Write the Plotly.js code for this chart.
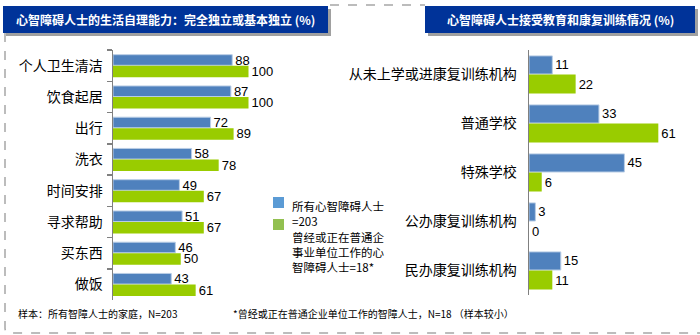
<!DOCTYPE html>
<html>
<head>
<meta charset="utf-8">
<script src="https://cdn.plot.ly/plotly-3.0.1.min.js"></script>
<style>html,body{margin:0;padding:0;background:#fff;}#chart{width:700px;height:335px;}</style>
</head>
<body>
<div id="chart"></div>
<script>
// ---- data ----
const leftCategories = ["个人卫生清洁","饮食起居","出行","洗衣","时间安排","寻求帮助","买东西","做饭"];
const leftAll = [88, 87, 72, 58, 49, 51, 46, 43];
const leftEmployed = [100, 100, 89, 78, 67, 67, 50, 61];

const rightCategories = ["从未上学或进康复训练机构","普通学校","特殊学校","公办康复训练机构","民办康复训练机构"];
const rightAll = [11, 33, 45, 3, 15];
const rightEmployed = [22, 61, 6, 0, 11];

const titleLeft = "心智障碍人士的生活自理能力：完全独立或基本独立 (%)";
const titleRight = "心智障碍人士接受教育和康复训练情况 (%)";
const legendAllLines = ["所有心智障碍人士", "=203"];
const legendEmpLines = ["曾经或正在普通企", "事业单位工作的心", "智障碍人士=18*"];
const noteLeft = "样本：所有智障人士的家庭，N=203";
const noteRight = "*曾经或正在普通企业单位工作的智障人士，N=18 （样本较小）";

// ---- helpers ----
const W = 700, H = 335;
const px = x => x / W;
const py = y => 1 - y / H;
const BLUE = "#4F81BD", GREEN = "#99CC00";
const CJK = "Noto Sans CJK SC, sans-serif";
const NUM = "Liberation Sans, Arial, sans-serif";

function barTrace(x, y, color, xa, ya, w, off, line) {
  return {
    type: "bar", orientation: "h", x: x, y: y,
    xaxis: xa, yaxis: ya, width: w, offset: off,
    marker: {color: color, line: line},
    text: x.map(String), textposition: "outside", cliponaxis: false,
    constraintext: "none",
    textfont: {family: NUM, size: 13, color: "#000"},
    hoverinfo: "skip", showlegend: false
  };
}
const blueLine = {color: "#B9CDE5", width: 1};
const greenLine = {color: GREEN, width: 0};

const traces = [
  barTrace(leftAll, leftCategories, BLUE, "x", "y", 0.34, -0.35, blueLine),
  barTrace(leftEmployed, leftCategories, GREEN, "x", "y", 0.37, 0.0, greenLine),
  barTrace(rightAll, rightCategories, BLUE, "x2", "y2", 0.37, -0.38, blueLine),
  barTrace(rightEmployed, rightCategories, GREEN, "x2", "y2", 0.39, 0.0, greenLine)
];

const shapes = [];
const annotations = [];

// dashed frame
shapes.push({type: "path", xref: "paper", yref: "paper",
  path: `M ${px(5)} ${py(33)} L ${px(5)} ${py(328)} Q ${px(5)} ${py(333)} ${px(10)} ${py(333)} L ${px(700)} ${py(333)}`,
  line: {color: "#A6A6A6", width: 1.5, dash: "dash"}});
shapes.push({type: "line", xref: "paper", yref: "paper",
  x0: px(330), x1: px(425), y0: py(5), y1: py(5),
  line: {color: "#A6A6A6", width: 1.5, dash: "dash"}});

// title boxes with shadow
function titleBox(x0, x1, y0, y1, text) {
  shapes.push({type: "rect", xref: "paper", yref: "paper",
    x0: px(x0 + 3), x1: px(x1 + 3), y0: py(y0 + 3), y1: py(y1 + 3),
    fillcolor: "#A0A0A0", line: {width: 0}, layer: "above"});
  shapes.push({type: "rect", xref: "paper", yref: "paper",
    x0: px(x0), x1: px(x1), y0: py(y0), y1: py(y1),
    fillcolor: "#003399", line: {width: 0}, layer: "above"});
  annotations.push({xref: "paper", yref: "paper", x: px((x0 + x1) / 2), y: py((y0 + y1) / 2),
    text: "<b>" + text + "</b>", showarrow: false, xanchor: "center", yanchor: "middle",
    font: {family: CJK, size: 12, color: "#fff"}});
}
titleBox(3, 328, 6, 33, titleLeft);
titleBox(425, 695, 6, 33, titleRight);

// legend
shapes.push({type: "rect", xref: "paper", yref: "paper",
  x0: px(273), x1: px(284), y0: py(197), y1: py(208), fillcolor: "#5B9BD5", line: {width: 0}});
shapes.push({type: "rect", xref: "paper", yref: "paper",
  x0: px(273), x1: px(284), y0: py(219), y1: py(230), fillcolor: "#92C050", line: {width: 0}});
annotations.push({xref: "paper", yref: "paper",
  x: px(290), y: py(196), text: legendAllLines.join("<br>"), showarrow: false,
  xanchor: "left", yanchor: "top", align: "left",
  font: {family: CJK, size: 11.5, color: "#000"}});
annotations.push({xref: "paper", yref: "paper",
  x: px(290), y: py(227), text: legendEmpLines.join("<br>"), showarrow: false,
  xanchor: "left", yanchor: "top", align: "left",
  font: {family: CJK, size: 11.5, color: "#000"}});

// footnotes
annotations.push({xref: "paper", yref: "paper", x: px(16), y: py(313), text: noteLeft,
  showarrow: false, xanchor: "left", yanchor: "middle", font: {family: CJK, size: 10, color: "#000"}});
annotations.push({xref: "paper", yref: "paper", x: px(231), y: py(313), text: noteRight,
  showarrow: false, xanchor: "left", yanchor: "middle", font: {family: CJK, size: 10, color: "#000"}});

const hiddenX = {showline: false, showticklabels: false, showgrid: false, zeroline: false, fixedrange: true};

const layout = {
  width: W, height: H,
  margin: {l: 0, r: 0, t: 0, b: 0},
  paper_bgcolor: "#fff", plot_bgcolor: "rgba(0,0,0,0)",
  barmode: "group",
  showlegend: false,
  xaxis: Object.assign({}, hiddenX, {domain: [px(113), px(113 + 125 * 1.355)], range: [0, 125]}),
  yaxis: {domain: [py(300), py(50)], anchor: "x", type: "category",
    range: [leftCategories.length - 0.5, -0.5],
    showline: true, linecolor: "#808080", linewidth: 1.5,
    ticks: "outside", tickson: "boundaries", ticklen: 5, tickcolor: "#808080", tickwidth: 1.5,
    showgrid: false, zeroline: false, ticklabelstandoff: 6,
    tickfont: {family: CJK, size: 14, color: "#000"}},
  xaxis2: Object.assign({}, hiddenX, {domain: [px(529), px(529 + 80 * 2.12)], range: [0, 80], anchor: "y2"}),
  yaxis2: {domain: [py(295), py(50)], anchor: "x2", type: "category",
    range: [rightCategories.length - 0.5, -0.5],
    showline: true, linecolor: "#808080", linewidth: 1.5,
    ticks: "", showgrid: false, zeroline: false, ticklabelstandoff: 8,
    tickfont: {family: CJK, size: 14, color: "#000"}},
  shapes: shapes,
  annotations: annotations
};

Plotly.newPlot("chart", traces, layout, {staticPlot: true, displayModeBar: false});
</script>
</body>
</html>
